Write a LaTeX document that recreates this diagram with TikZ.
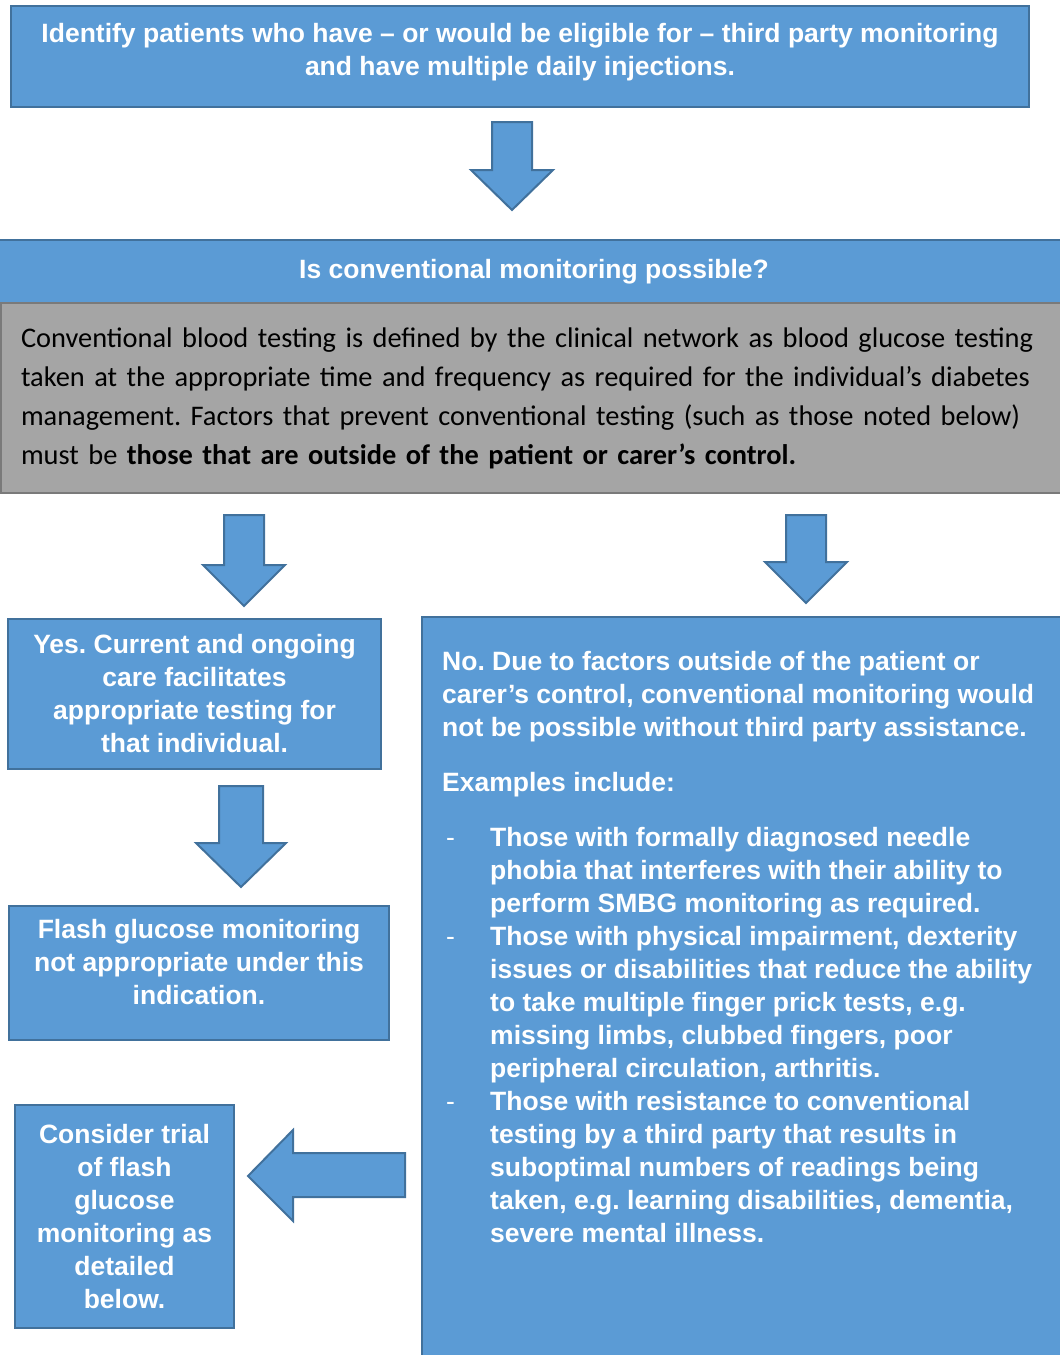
\documentclass[tikz,border=0pt]{standalone}
\usepackage{fontspec}
\setmainfont{Liberation Sans}
\newfontfamily\calibrifont{Carlito}
\usetikzlibrary{positioning}
\frenchspacing

\definecolor{boxblue}{HTML}{5B9BD5}
\definecolor{boxedge}{HTML}{41719C}
\definecolor{boxgray}{HTML}{A5A5A5}
\definecolor{grayedge}{HTML}{7A7A7A}

\tikzset{
    bluebox/.style={draw=boxedge, fill=boxblue, line width=2pt, text=white,
        font=\bfseries\fontsize{26.5}{33}\selectfont, align=center, inner sep=0pt},
    graybox/.style={draw=grayedge, fill=boxgray, line width=2pt, text=black,
        font=\calibrifont\fontsize{28.4}{39}\selectfont, align=left},
    blockarrow/.style={draw=boxedge, fill=boxblue, line width=2pt, line join=miter}
}

% x, top, tip, half shaft, half head, head length
\newcommand{\downblock}[6]{%
    \draw[blockarrow] (#1-#4,#2) -- (#1+#4,#2) -- (#1+#4,#3-#6) -- (#1+#5,#3-#6)
        -- (#1,#3) -- (#1-#5,#3-#6) -- (#1-#4,#3-#6) -- cycle;}
\newcommand{\itemdash}{\makebox[48pt][l]{\hspace{4pt}\mdseries -}}
\newcommand{\itemgap}{\hspace*{48pt}}

\begin{document}
\begin{tikzpicture}[x=1pt, y=-1pt]
    \useasboundingbox (0,0) rectangle (1060,1355);

    % boxes
    \node[bluebox, minimum width=1018, minimum height=101, anchor=north west] (identify) at (10,5)
        {Identify patients who have – or would be eligible for – third party monitoring\\and have multiple daily injections.\\[-18pt]};
    \node[bluebox, minimum width=1070, minimum height=63, anchor=north west] (question) at (-2,239)
        {Is conventional monitoring possible?};
    \node[graybox, text width=1030, inner xsep=20pt, inner ysep=0pt, minimum height=190, anchor=north west] (definition) at (0,302)
        {Conventional blood testing is defined by the clinical network as blood glucose testing\\
         taken at the appropriate time and frequency as required for the individual’s diabetes\\
         management. Factors that prevent conventional testing (such as those noted below)\\
         must be \textbf{those that are outside of the patient or carer’s control.}};
    \node[bluebox, minimum width=373, minimum height=150, anchor=north west] (yes) at (7,618)
        {Yes. Current and ongoing\\care facilitates\\appropriate testing for\\that individual.};
    \node[bluebox, minimum width=380, minimum height=134, anchor=north west] (flash) at (8,905)
        {Flash glucose monitoring\\not appropriate under this\\indication.\\[-10pt]};
    \node[bluebox, minimum width=219, minimum height=223, anchor=north west] (consider) at (14,1104)
        {Consider trial\\of flash\\glucose\\monitoring as\\detailed\\below.};
    \node[bluebox, minimum width=660, minimum height=760, anchor=north west] (no) at (421,616) {};
    \node[anchor=north west, text=white, font=\bfseries\fontsize{26.5}{33}\selectfont, align=left, inner sep=0pt] (notext) at (442,651)
        {No. Due to factors outside of the patient or\\
         carer’s control, conventional monitoring would\\
         not be possible without third party assistance.\\[22pt]
         Examples include:\\[22pt]
         \itemdash Those with formally diagnosed needle\\
         \itemgap phobia that interferes with their ability to\\
         \itemgap perform SMBG monitoring as required.\\
         \itemdash Those with physical impairment, dexterity\\
         \itemgap issues or disabilities that reduce the ability\\
         \itemgap to take multiple finger prick tests, e.g.\\
         \itemgap missing limbs, clubbed fingers, poor\\
         \itemgap peripheral circulation, arthritis.\\
         \itemdash Those with resistance to conventional\\
         \itemgap testing by a third party that results in\\
         \itemgap suboptimal numbers of readings being\\
         \itemgap taken, e.g. learning disabilities, dementia,\\
         \itemgap severe mental illness.};

    % block arrows
    \downblock{512}{122}{210}{20}{41}{40}
    \downblock{244}{515}{606}{20}{41}{41}
    \downblock{806}{515}{603}{20}{41}{41}
    \downblock{241}{786}{887}{22}{45}{44}
    \draw[blockarrow] (405,1153) -- (293,1153) -- (293,1130) -- (248,1176)
        -- (293,1221) -- (293,1197) -- (405,1197) -- cycle;
\end{tikzpicture}
\end{document}
